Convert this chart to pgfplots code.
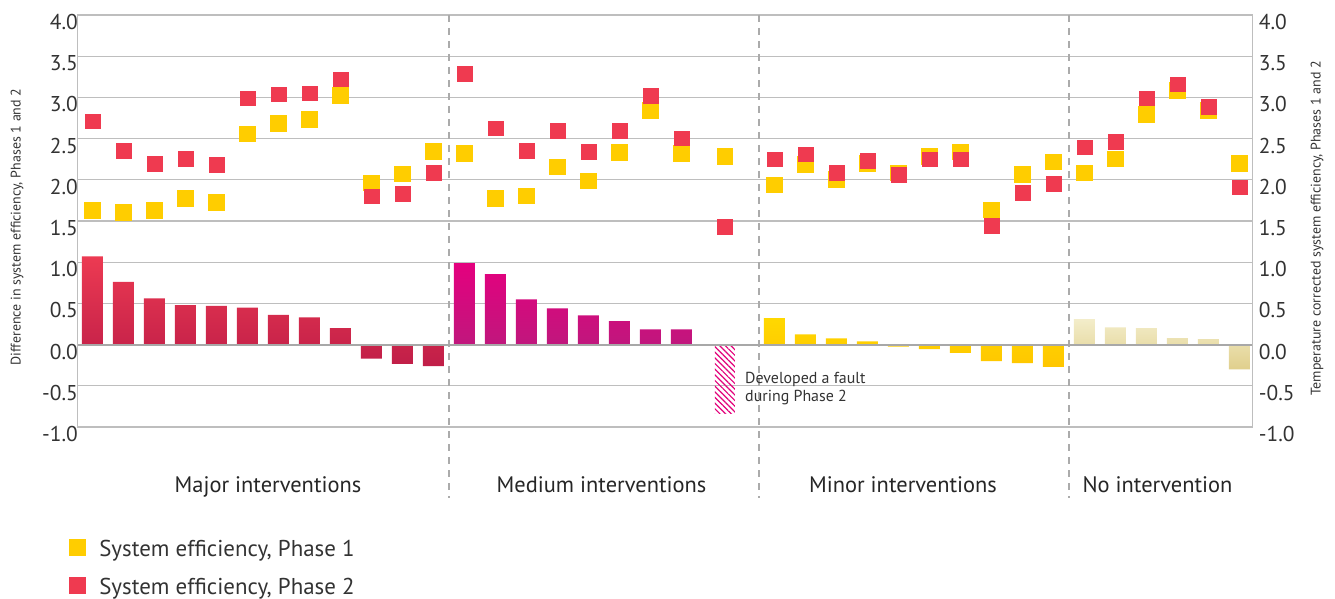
\documentclass[border=0pt]{standalone}
\usepackage{pgfplots}
\pgfplotsset{compat=1.18}
\usepackage{fontspec}
\setmainfont{PT Sans}
\usetikzlibrary{patterns.meta}

\definecolor{gridgray}{HTML}{BEBEBE}
\definecolor{zerogray}{HTML}{A8A8A8}
\definecolor{sepgray}{HTML}{ABABAB}
\definecolor{textgray}{HTML}{333333}
\definecolor{pyellow}{HTML}{FFCD00}
\definecolor{pred}{HTML}{EF3A50}
\definecolor{majtop}{HTML}{EC3A52}
\definecolor{majbot}{HTML}{C01E48}
\definecolor{medtop}{HTML}{E4007E}
\definecolor{medbot}{HTML}{C0177D}
\definecolor{mintop}{HTML}{FFD800}
\definecolor{minbot}{HTML}{FFC600}
\definecolor{notop}{HTML}{F3EDCA}
\definecolor{nobot}{HTML}{E0CF8C}
\definecolor{faultc}{HTML}{E2007A}

\begin{document}
\begin{tikzpicture}
\useasboundingbox (0,0) rectangle (1335bp,599bp);
\begin{axis}[
  at={(77.5bp,172bp)}, anchor=south west,
  scale only axis, width=1175.2bp, height=412bp,
  xmin=-0.48, xmax=37.43, ymin=-1, ymax=4,
  xtick=\empty,
  ytick={-1,-0.5,0,0.5,1,1.5,2,2.5,3,3.5,4},
  ytick pos=left,
  major tick length=0pt,
  ymajorgrids,
  grid style={color=gridgray, line width=1.3bp},
  axis line style={color=gridgray, line width=1.3bp},
  yticklabel style={anchor=north east, inner sep=0pt, xshift=0.5bp, yshift=1bp,
    font=\fontsize{21.5}{21.5}\selectfont, text=textgray,
    /pgf/number format/fixed, /pgf/number format/fixed zerofill,
    /pgf/number format/precision=1, /pgf/number format/assume math mode=true},
  clip=false,
  legend style={at={(-0.0075,-0.2695)}, anchor=north west, draw=none, fill=none,
    inner sep=0pt, row sep=16bp, column sep=12bp, font=\fontsize{23}{23}\selectfont,
    text=textgray, legend cell align=left},
]
% separators
\draw[sepgray, line width=1.3bp, dash pattern=on 7bp off 6bp] (axis cs:11.5,4) -- (axis cs:11.5,-1.86);
\draw[sepgray, line width=1.3bp, dash pattern=on 7bp off 6bp] (axis cs:21.5,4) -- (axis cs:21.5,-1.86);
\draw[sepgray, line width=1.3bp, dash pattern=on 7bp off 6bp] (axis cs:31.5,4) -- (axis cs:31.5,-1.86);

% bars: major
\addplot[ybar, bar width=21bp, bar shift=0pt, draw=none, top color=majtop, bottom color=majbot, forget plot]
coordinates {(0,1.07) (1,0.76) (2,0.56) (3,0.48) (4,0.47) (5,0.45) (6,0.36) (7,0.33) (8,0.20) (9,-0.17) (10,-0.235) (11,-0.26)};
% medium
\addplot[ybar, bar width=21bp, bar shift=0pt, draw=none, top color=medtop, bottom color=medbot, forget plot]
coordinates {(12,0.99) (13,0.855) (14,0.55) (15,0.44) (16,0.355) (17,0.285) (18,0.185) (19,0.185)};
% fault
\addplot[ybar, bar width=20bp, bar shift=0pt, draw=none, pattern={Lines[angle=-45,distance=4bp,line width=1.2bp]}, pattern color=faultc, forget plot]
coordinates {(20.4,-0.84)};
% minor
\addplot[ybar, bar width=21bp, bar shift=0pt, draw=none, top color=mintop, bottom color=minbot, forget plot]
coordinates {(22,0.32) (23,0.125) (24,0.075) (25,0.04) (26,-0.025) (27,-0.055) (28,-0.10) (29,-0.20) (30,-0.225) (31,-0.27)};
% none
\addplot[ybar, bar width=21bp, bar shift=0pt, draw=none, top color=notop, bottom color=nobot, forget plot]
coordinates {(32,0.31) (33,0.21) (34,0.20) (35,0.08) (36,0.065) (37,-0.30)};

\draw[zerogray, line width=2bp] (axis cs:-0.48,0) -- (axis cs:37.43,0);

% Phase 1
\addplot[only marks, mark=square*, mark size=7.8bp, color=pyellow, mark options={draw=none, fill=pyellow},
  legend image code/.code={\fill[pyellow] (0bp,-6bp) rectangle (16bp,9.5bp);}]
coordinates {(0,1.63) (1,1.61) (2,1.63) (3,1.78) (4,1.725) (5,2.56) (6,2.685) (7,2.735) (8,3.03) (9,1.965) (10,2.075) (11,2.345)
(12,2.32) (13,1.775) (14,1.805) (15,2.16) (16,1.99) (17,2.335) (18,2.845) (19,2.325) (20.4,2.285)
(22,1.94) (23,2.19) (24,2.01) (25,2.20) (26,2.085) (27,2.29) (28,2.34) (29,1.635) (30,2.065) (31,2.22)
(32,2.085) (33,2.255) (34,2.795) (35,3.085) (36,2.845) (37,2.205)};
\addlegendentry{System efficiency, Phase 1}
% Phase 2
\addplot[only marks, mark=square*, mark size=7.4bp, color=pred, mark options={draw=none, fill=pred},
  legend image code/.code={\fill[pred] (0bp,-6bp) rectangle (16bp,9.5bp);}]
coordinates {(0,2.71) (1,2.355) (2,2.20) (3,2.26) (4,2.185) (5,2.99) (6,3.04) (7,3.05) (8,3.22) (9,1.80) (10,1.835) (11,2.09)
(12,3.29) (13,2.625) (14,2.355) (15,2.60) (16,2.345) (17,2.60) (18,3.025) (19,2.505) (20.4,1.435)
(22,2.25) (23,2.31) (24,2.09) (25,2.235) (26,2.065) (27,2.25) (28,2.25) (29,1.445) (30,1.845) (31,1.955)
(32,2.395) (33,2.465) (34,2.99) (35,3.16) (36,2.89) (37,1.91)};
\addlegendentry{System efficiency, Phase 2}
\end{axis}

\begin{axis}[
  at={(77.5bp,172bp)}, anchor=south west,
  scale only axis, width=1175.2bp, height=412bp,
  xmin=-0.48, xmax=37.43, ymin=-1, ymax=4,
  hide x axis,
  axis y line*=right,
  ytick={-1,-0.5,0,0.5,1,1.5,2,2.5,3,3.5,4},
  major tick length=0pt,
  axis line style={color=gridgray, line width=1.3bp, -},
  yticklabel style={anchor=north west, inner sep=0pt, xshift=6bp, yshift=1bp,
    font=\fontsize{21.5}{21.5}\selectfont, text=textgray,
    /pgf/number format/fixed, /pgf/number format/fixed zerofill,
    /pgf/number format/precision=1, /pgf/number format/assume math mode=true},
]
\addplot[draw=none, forget plot] coordinates {(0,0)};
\end{axis}

% axis titles
\node[rotate=90, text=textgray, font=\fontsize{14}{14}\selectfont] at (17bp,372bp) {Difference in system efficiency, Phases 1 and 2};
\node[rotate=90, text=textgray, font=\fontsize{14}{14}\selectfont] at (1317bp,371bp) {Temperature corrected system efficiency, Phases 1 and 2};

% category labels
\begin{scope}[every node/.style={text=black!85, anchor=base, font=\fontsize{22.5}{22.5}\selectfont}]
\node at (268bp,106.5bp) {Major interventions};
\node at (601.5bp,106.5bp) {Medium interventions};
\node at (903bp,106.5bp) {Minor interventions};
\node at (1157.5bp,106.5bp) {No intervention};
\end{scope}

% fault annotation
\node[anchor=north west, align=left, inner sep=0pt, text=textgray, font=\fontsize{16}{18}\selectfont] at (745bp,227bp) {Developed a fault\\during Phase 2};
\end{tikzpicture}
\end{document}
